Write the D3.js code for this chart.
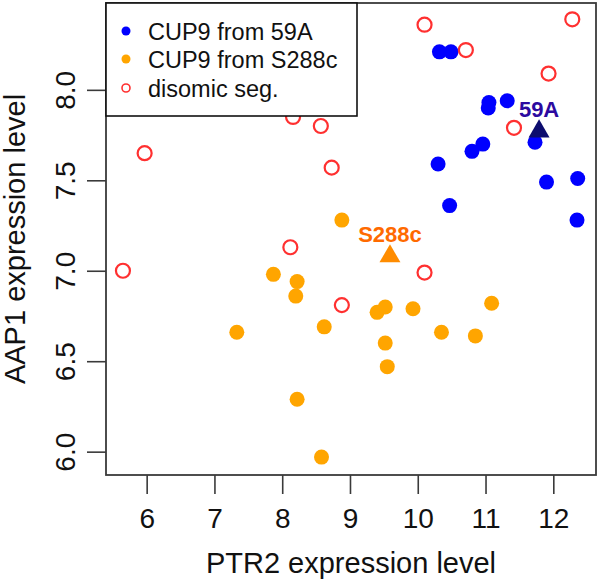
<!DOCTYPE html>
<html>
<head>
<meta charset="utf-8">
<script src="https://cdn.jsdelivr.net/npm/d3@7"></script>
<style>
  html, body { margin: 0; padding: 0; background: #fff; }
  svg { display: block; }
  text { font-family: "Liberation Sans", Arial, Helvetica, sans-serif; }
</style>
</head>
<body>
<svg id="chart" width="600" height="582"></svg>
<script>
// ---- data ----
const blue59A = [
  [10.32, 8.21], [10.49, 8.21], [11.05, 7.93], [11.04, 7.90], [11.32, 7.94],
  [11.73, 7.71], [10.96, 7.70], [10.80, 7.66], [10.30, 7.59], [11.90, 7.49],
  [12.36, 7.51], [10.47, 7.36], [12.35, 7.28]
];
const orangeS288c = [
  [8.88, 7.28], [7.87, 6.98], [8.22, 6.94], [8.20, 6.86], [7.33, 6.66],
  [8.62, 6.69], [9.40, 6.77], [9.52, 6.80], [9.93, 6.79], [10.35, 6.66],
  [10.85, 6.64], [11.09, 6.82], [9.52, 6.60], [9.55, 6.47], [8.22, 6.29],
  [8.58, 5.97]
];
const disomic = [
  [5.65, 7.00], [5.97, 7.65], [8.12, 7.13], [8.16, 7.85], [8.57, 7.80],
  [8.73, 7.57], [10.10, 8.36], [10.71, 8.22], [12.28, 8.39], [11.93, 8.09],
  [11.42, 7.79], [10.10, 6.99], [8.88, 6.81]
];
const parents = [
  { name: "59A", x: 11.79, y: 7.77 },
  { name: "S288c", x: 9.59, y: 7.08 }
];
const xTicks = [6, 7, 8, 9, 10, 11, 12];
const yTicks = [6.0, 6.5, 7.0, 7.5, 8.0];
const legendLabels = ["CUP9 from 59A", "CUP9 from S288c", "disomic seg."];
const xTitle = "PTR2 expression level";
const yTitle = "AAP1 expression level";

// ---- layout ----
const L = 106, R = 596, T = 3, B = 475;
const svg = d3.select("#chart");
const x = d3.scaleLinear().domain([5.4, 12.63]).range([L, R]);
const y = d3.scaleLinear().domain([5.871, 8.48]).range([B, T]);

const axisColor = "#3a3a3a";

// x axis
const gx = svg.append("g").attr("transform", `translate(0,${B})`)
  .call(d3.axisBottom(x).tickValues(xTicks).tickSize(19).tickPadding(14).tickFormat(d3.format("d")));
gx.select(".domain").remove();
gx.selectAll(".tick line").attr("stroke", axisColor).attr("stroke-width", 1.6);
gx.selectAll(".tick text").attr("font-size", 28).attr("fill", "#111")
  .attr("y", 0).attr("dy", 0).attr("transform", "translate(0,53)");

// y axis
const gy = svg.append("g").attr("transform", `translate(${L},0)`)
  .call(d3.axisLeft(y).tickValues(yTicks).tickSize(19).tickFormat(d3.format(".1f")));
gy.select(".domain").remove();
gy.selectAll(".tick line").attr("stroke", axisColor).attr("stroke-width", 1.6);
gy.selectAll(".tick text").attr("font-size", 28).attr("fill", "#111")
  .attr("text-anchor", "middle").attr("transform", "rotate(-90)")
  .attr("x", 0).attr("y", -31).attr("dy", 0);

// plot box
svg.append("rect").attr("x", L).attr("y", T).attr("width", R - L).attr("height", B - T)
  .attr("fill", "none").attr("stroke", axisColor).attr("stroke-width", 1.8);

// titles
svg.append("text").attr("x", (L + R) / 2).attr("y", 573).attr("text-anchor", "middle")
  .attr("font-size", 29).attr("fill", "#111").text(xTitle);
svg.append("text").attr("transform", `translate(25,${(T + B) / 2}) rotate(-90)`)
  .attr("text-anchor", "middle").attr("font-size", 29).attr("fill", "#111").text(yTitle);

// points
const pts = svg.append("g");
pts.selectAll("circle.b").data(blue59A).join("circle").attr("class", "b")
  .attr("cx", d => x(d[0])).attr("cy", d => y(d[1])).attr("r", 7.5).attr("fill", "#0000ff");
pts.selectAll("circle.o").data(orangeS288c).join("circle").attr("class", "o")
  .attr("cx", d => x(d[0])).attr("cy", d => y(d[1])).attr("r", 7.5).attr("fill", "#ffa500");
pts.selectAll("circle.r").data(disomic).join("circle").attr("class", "r")
  .attr("cx", d => x(d[0])).attr("cy", d => y(d[1])).attr("r", 7)
  .attr("fill", "none").attr("stroke", "#ff3030").attr("stroke-width", 2.2);

// parent triangles + labels
const triColor = { "59A": "#0c0c6e", "S288c": "#ff8c00" };
const labColor = { "59A": "#2c0aa0", "S288c": "#ff6a00" };
const tri = d3.symbol().type(d3.symbolTriangle).size(190);
svg.append("g").selectAll("path").data(parents).join("path")
  .attr("d", tri).attr("transform", d => `translate(${x(d.x)},${y(d.y)})`)
  .attr("fill", d => triColor[d.name]);
svg.append("g").selectAll("text").data(parents).join("text")
  .attr("x", d => x(d.x)).attr("y", d => y(d.y) - 14)
  .attr("text-anchor", "middle").attr("font-size", 22).attr("font-weight", "bold")
  .attr("fill", d => labColor[d.name]).text(d => d.name);

// legend
const lg = svg.append("g");
lg.append("rect").attr("x", L).attr("y", T).attr("width", 251).attr("height", 113)
  .attr("fill", "#fff").attr("stroke", "#111").attr("stroke-width", 1.6);
const rowsY = [31, 59, 88];
lg.append("circle").attr("cx", 126).attr("cy", rowsY[0]).attr("r", 4.5).attr("fill", "#0000ff");
lg.append("circle").attr("cx", 126).attr("cy", rowsY[1]).attr("r", 4.5).attr("fill", "#ffa500");
lg.append("circle").attr("cx", 126).attr("cy", rowsY[2]).attr("r", 4).attr("fill", "none")
  .attr("stroke", "#ff3030").attr("stroke-width", 1.6);
lg.selectAll("text").data(legendLabels).join("text")
  .attr("x", 148).attr("y", (d, i) => rowsY[i] + 8.5)
  .attr("font-size", 23.5).attr("fill", "#111").text(d => d);
</script>
</body>
</html>
